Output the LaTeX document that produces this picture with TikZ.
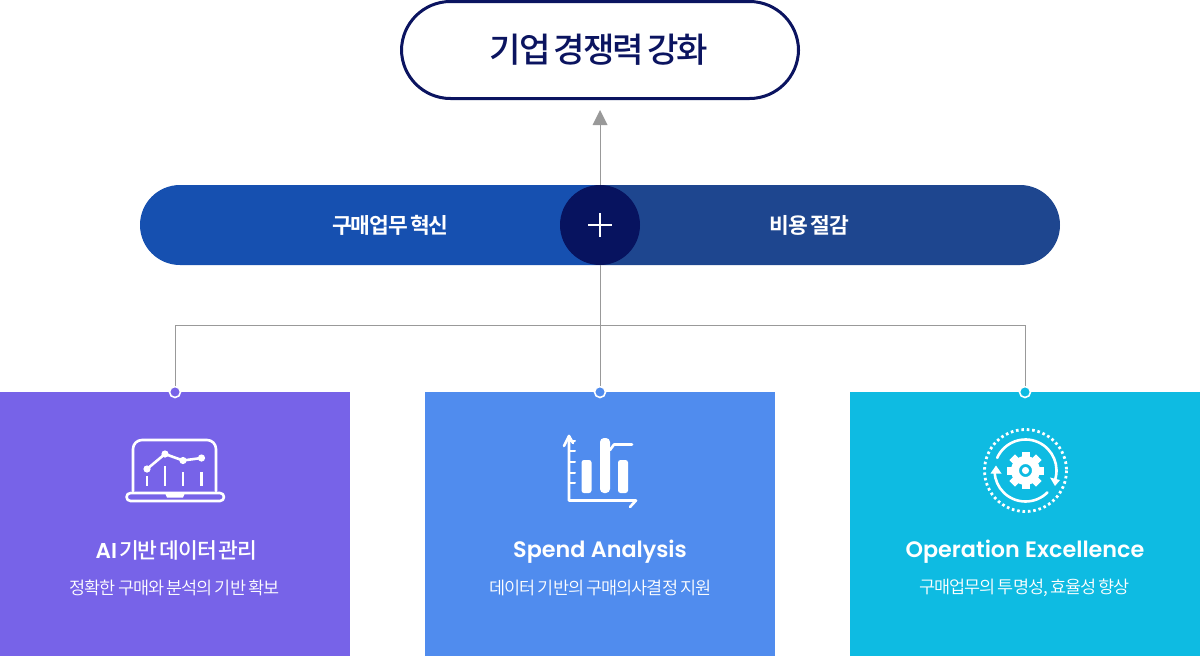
\documentclass[tikz,border=0pt]{standalone}
\usepackage{fontspec}
\usetikzlibrary{arrows.meta,calc}
\newfontfamily\krb[LetterSpace=-5,WordSpace=0.55]{Noto Sans CJK KR Bold}
\newfontfamily\krm[LetterSpace=-5,WordSpace=0.55]{Noto Sans CJK KR Medium}
\newfontfamily\krt[LetterSpace=-5.5,WordSpace=0.5]{Noto Sans CJK KR Medium}
\newfontfamily\krl[LetterSpace=-5.5,WordSpace=0.7]{Noto Sans CJK KR DemiLight}
\newfontfamily\lat[LetterSpace=0]{Poppins SemiBold}
\definecolor{navy}{HTML}{0B1460}
\definecolor{pillL}{HTML}{1650B0}
\definecolor{pillR}{HTML}{1E468F}
\definecolor{hub}{HTML}{07135F}
\definecolor{cardA}{HTML}{7763E8}
\definecolor{cardB}{HTML}{508CEE}
\definecolor{cardC}{HTML}{0EBBE2}
\definecolor{conn}{HTML}{999999}
\tikzset{
  conline/.style={draw=conn,line width=1pt},
  card/.style={minimum width=350pt,minimum height=264pt,inner sep=0,anchor=north west,draw=none},
  dot/.style={circle,draw=white,line width=1.6pt,minimum size=11pt,inner sep=0},
  ttl/.style={text=white,font=\krm\fontsize{21.5}{24}\selectfont,inner sep=0},
  lattl/.style={text=white,font=\lat\fontsize{22.3}{24}\selectfont,inner sep=0},
  sub/.style={text=white,font=\krl\fontsize{17.5}{20}\selectfont,inner sep=0},
  pilltext/.style={text=white,font=\krb\fontsize{21.5}{24}\selectfont,inner sep=0},
  ic/.style={draw=white,line width=2.6pt,line cap=round,line join=round},
}
\begin{document}
\begin{tikzpicture}[x=1pt,y=-1pt]
\useasboundingbox (0,0) rectangle (1200,656);
\node[card,fill=cardA] (a) at (0,392) {};
\node[card,fill=cardB] (b) at (425,392) {};
\node[card,fill=cardC] (c) at (850,392) {};
% pill
\begin{scope}
\clip (140,185) rectangle (600,265);
\fill[pillL,rounded corners=40pt] (140,185) rectangle (700,265);
\end{scope}
\begin{scope}
\clip (600,185) rectangle (1060,265);
\fill[pillR,rounded corners=40pt] (500,185) rectangle (1060,265);
\end{scope}
\node[draw=navy,line width=3pt,fill=white,rounded corners=49pt,minimum width=397pt,minimum height=97pt,inner sep=0,text=navy,font=\krt\fontsize{34.2}{38}\selectfont] (goal) at (600,50) {기업 경쟁력 강화\hspace*{2pt}};
\node[circle,fill=hub,minimum size=80pt,inner sep=0] (hub) at (600,225) {};
\node[pilltext] (p1) at (390.5,225.5) {구매업무 혁신};
\node[pilltext] (p2) at (809.5,225.5) {비용 절감};
\coordinate (arrowtip) at (600,110);
\coordinate (junction) at (600,325.5);
\node[dot,fill=cardA] (da) at (175,392) {};
\node[dot,fill=cardB] (db) at (600,392) {};
\node[dot,fill=cardC] (dc) at (1025,392) {};
\draw[conline] (hub.north) -- (600,122);
\fill[conn] (arrowtip) -- (607.5,125) -- (592.5,125) -- cycle;
\draw[conline] (hub.south) -- (db.north);
\draw[conline] (da.north) |- (junction) -| (dc.north);
% plus
\draw[white,line width=1.6pt] (588,225) -- (612,225) (600,213) -- (600,237);
% laptop icon
\begin{scope}[ic]
\draw (133,491) -- (133,449) arc[start angle=180,end angle=270,radius=9] -- (207,440) arc[start angle=270,end angle=360,radius=9] -- (216,491);
\draw[rounded corners=4pt] (126.5,493) rectangle (224,501);
\fill[white,draw=none] (165,493) -- (185,493) -- (183,497.5) -- (167,497.5) -- cycle;
\draw (147,469) -- (165,454) -- (183,460.5) -- (201.5,458);
\fill[white,draw=none] (147,469) circle(3.6) (165,454) circle(3.6) (183,460.5) circle(3.6) (201.5,458) circle(3.6);
\draw[line cap=butt,line width=2.2pt] (147,476) -- (147,486) (165,466) -- (165,486) (183,472) -- (183,486) (201.5,472) -- (201.5,486);
\end{scope}
% bar icon
\begin{scope}[ic]
\draw (569,436) -- (569,500.5) -- (636,500.5) (630,507) -- (636,500.5);
\draw (564,446) -- (569,436) -- (573,443);
\draw[line width=2pt] (569,441) -- (575,441) (569,451) -- (575,451) (569,462) -- (575,462) (569,473) -- (575,473) (569,483) -- (575,483);
\fill[white,draw=none,rounded corners=2.5pt] (581.5,460) rectangle (591.5,493);
\fill[white,draw=none,rounded corners=4pt] (600,438) rectangle (610,493);
\fill[white,draw=none,rounded corners=2.5pt] (618,460) rectangle (628,493);
\draw (610,450) -- (614,444.5) -- (632,444.5);
\end{scope}
% gear icon
\begin{scope}[shift={(1025.5,470.5)}]
\draw[white,line width=2.8pt,dash pattern=on 2.6pt off 2.8pt] (0,0) circle(41);
\draw[white,line width=2.6pt,line cap=round] (204:31) arc[start angle=204,end angle=381,radius=31];
\draw[white,line width=2.6pt,line cap=round] (45:31) arc[start angle=45,end angle=177,radius=31];
\fill[white] (-29.5,-5) -- (-35,3) -- (-24,3) -- cycle;
\fill[white] (24.5,7) -- (29.5,15.5) -- (34.5,9.5) -- cycle;
\foreach \a in {0,45,...,315}{\fill[white,rotate=\a] (12,-4) rectangle (18.8,4);}
\fill[white,even odd rule] (0,0) circle(14.5) (0,0) circle(6.5);
\fill[white] (0,0) circle(3.6);
\end{scope}
% card text
\node[ttl] (ta) at (176.5,550) {{\lat AI} 기반 데이터 관리};
\node[sub] (sa) at (174.5,588) {정확한 구매와 분석의 기반 확보};
\node[lattl] (tb) at (600,552) {Spend Analysis};
\node[sub] (sb) at (600.5,588) {데이터 기반의 구매의사결정 지원};
\node[lattl] (tc) at (1025,552) {Operation Excellence};
\node[sub] (sc) at (1024.5,588) {구매업무의 투명성, 효율성 향상};
\end{tikzpicture}
\end{document}
